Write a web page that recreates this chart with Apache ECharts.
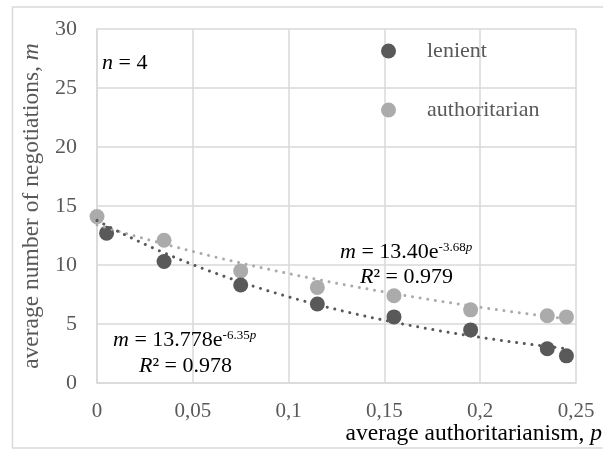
<!DOCTYPE html>
<html>
<head>
<meta charset="utf-8">
<script src="https://cdn.jsdelivr.net/npm/echarts@6/dist/echarts.min.js"></script>
<style>html,body{margin:0;padding:0;background:#fff;}#c{width:603px;height:450px;}</style>
</head>
<body>
<div id="c"></div>
<script>
// ---- data ----
const lenientP = [0.005, 0.035, 0.075, 0.115, 0.155, 0.195, 0.235, 0.245];
const lenientM = [12.7, 10.3, 8.3, 6.7, 5.6, 4.5, 2.9, 2.3];
const authP = [0.0, 0.035, 0.075, 0.115, 0.155, 0.195, 0.235, 0.245];
const authM = [14.1, 12.1, 9.5, 8.1, 7.4, 6.2, 5.7, 5.6];
// fitted trend lines shown in the chart: m = a * e^(b p)
const lenientFit = [13.778, -6.35];
const authFit = [13.40, -3.68];
const fitRange = [0, 0.245];
const xTicks = ['0', '0,05', '0,1', '0,15', '0,2', '0,25'];
const yTicks = ['0', '5', '10', '15', '20', '25', '30'];

const FONT = '"Liberation Serif", "Times New Roman", serif';
const TXT = '#595959';
const DARK = '#595959';
const LIGHT = '#ababab';
const GRID = '#d9d9d9';

function pairs(xs, ys) { return xs.map((x, i) => [x, ys[i]]); }
function trend(fit) {
  const out = [];
  const n = 49;
  for (let i = 0; i <= n; i++) {
    const p = fitRange[0] + (fitRange[1] - fitRange[0]) * i / n;
    out.push([p, fit[0] * Math.exp(fit[1] * p)]);
  }
  return out;
}

const chart = echarts.init(document.getElementById('c'), null, {renderer: 'canvas'});
function rich(size) {
  return {
    t: {fontFamily: FONT, fontSize: size, color: TXT},
    i: {fontFamily: FONT, fontSize: size, color: TXT, fontStyle: 'italic'},
    s: {fontFamily: FONT, fontSize: 13, color: TXT, padding: [0, 0, 10, 0]},
    si: {fontFamily: FONT, fontSize: 13, color: TXT, fontStyle: 'italic', padding: [0, 0, 10, 0]}
  };
}
const richBase = rich(22);

chart.setOption({
  animation: false,
  backgroundColor: '#fff',
  grid: {left: 97, right: 27, top: 29, bottom: 67, containLabel: false, outerBoundsMode: 'none'},
  xAxis: {
    type: 'value', min: 0, max: 0.25, interval: 0.05,
    axisLine: {show: true, lineStyle: {color: GRID, width: 1.5}},
    axisTick: {show: false},
    splitLine: {show: true, lineStyle: {color: GRID, width: 1.5}},
    axisLabel: {
      color: TXT, fontFamily: FONT, fontSize: 21, margin: 18,
      formatter: (v) => xTicks[Math.round(v / 0.05)]
    }
  },
  yAxis: {
    type: 'value', min: 0, max: 30, interval: 5,
    axisLine: {show: true, lineStyle: {color: GRID, width: 1.5}},
    axisTick: {show: false},
    splitLine: {show: true, lineStyle: {color: GRID, width: 1.5}},
    axisLabel: {
      color: TXT, fontFamily: FONT, fontSize: 22, margin: 20,
      formatter: (v) => yTicks[Math.round(v / 5)]
    },
    name: '{t|average number of negotiations, }{i|m}',
    nameLocation: 'middle', nameGap: 64, nameRotate: 90,
    nameTextStyle: {align: 'center', verticalAlign: 'middle', rich: rich(23.5)}
  },
  legend: {
    data: ['lenient', 'authoritarian'],
    orient: 'vertical', left: 381, top: 40, padding: 0,
    itemWidth: 15, itemHeight: 15, itemGap: 37, icon: 'circle',
    textStyle: {color: TXT, fontFamily: FONT, fontSize: 22, lineHeight: 22, padding: [0, 0, 0, 26]}
  },
  series: [
    {
      name: 'authoritarian', type: 'scatter', symbol: 'circle', symbolSize: 15,
      itemStyle: {color: LIGHT, opacity: 1}, data: pairs(authP, authM), z: 2
    },
    {
      name: 'lenient', type: 'scatter', symbol: 'circle', symbolSize: 15,
      itemStyle: {color: DARK, opacity: 1}, data: pairs(lenientP, lenientM), z: 2
    },
    {
      name: 'authoritarian trend', type: 'line', showSymbol: false, smooth: false,
      lineStyle: {color: LIGHT, width: 3, type: [0.01, 7.7], cap: 'round'},
      data: trend(authFit), z: 3, silent: true
    },
    {
      name: 'lenient trend', type: 'line', showSymbol: false, smooth: false,
      lineStyle: {color: DARK, width: 3, type: [0.01, 7.7], cap: 'round'},
      data: trend(lenientFit), z: 3, silent: true
    }
  ],
  graphic: [
    {type: 'rect', silent: true, z: -1,
     shape: {x: 12.5, y: 7, width: 640, height: 441},
     style: {fill: null, stroke: GRID, lineWidth: 1.5}},
    {type: 'text', right: 1, top: 422, z: 10,
     style: {text: '{t|average authoritarianism, }{i|p}', rich: rich(23.5)}},
    {type: 'text', left: 102, top: 52, z: 10,
     style: {text: '{i|n}{t| = 4}', rich: richBase}},
    {type: 'text', left: 340, top: 241, z: 10,
     style: {text: '{i|m}{t| = 13.40e}{s|-3.68}{si|p}', rich: richBase}},
    {type: 'text', left: 360, top: 266, z: 10,
     style: {text: '{i|R}{t|² = 0.979}', rich: richBase}},
    {type: 'text', left: 113, top: 329, z: 10,
     style: {text: '{i|m}{t| = 13.778e}{s|-6.35}{si|p}', rich: richBase}},
    {type: 'text', left: 139, top: 355, z: 10,
     style: {text: '{i|R}{t|² = 0.978}', rich: richBase}}
  ]
});
</script>
</body>
</html>
